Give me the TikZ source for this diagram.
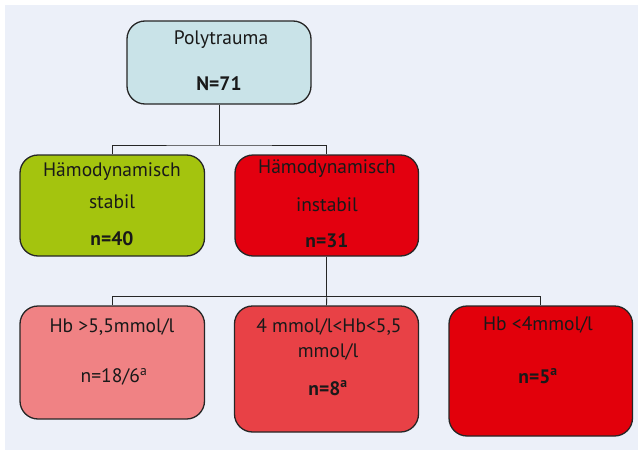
\documentclass[tikz,border=0pt]{standalone}
\usepackage{fontspec}
\setmainfont{PT Sans}
\definecolor{bgcol}{HTML}{ECF0F9}
\definecolor{polycol}{HTML}{C9E3E8}
\definecolor{greencol}{HTML}{A4C40E}
\definecolor{redcol}{HTML}{E3000F}
\definecolor{pinkcol}{HTML}{F08284}
\definecolor{midcol}{HTML}{E84146}
\definecolor{darkred}{HTML}{E2000B}
\newcommand{\txtsize}{\fontsize{19.5}{22}\selectfont}
\begin{document}
\begin{tikzpicture}[x=1pt,y=-1pt,
  box/.style={draw=black!85, line width=1.3pt, rounded corners=18pt, inner sep=0pt},
  txt/.style={inner sep=0pt, font=\txtsize, text=black!90},
  btxt/.style={inner sep=0pt, font=\txtsize\bfseries, text=black!90},
  conn/.style={draw=black!85, line width=0.9pt}]
\useasboundingbox (0,0) rectangle (638,450);
\fill[bgcol] (5,5) rectangle (638,450);

\node[box, fill=polycol, minimum width=184pt, minimum height=83pt] (poly) at (219,62.5) {};
\node[box, fill=greencol, minimum width=184.5pt, minimum height=101pt] (stab) at (112.25,205.5) {};
\node[box, fill=redcol, minimum width=183.5pt, minimum height=101pt] (inst) at (326.75,205.5) {};
\node[box, fill=pinkcol, minimum width=184.5pt, minimum height=113pt] (hb1) at (112.25,362.5) {};
\node[box, fill=midcol, minimum width=184pt, minimum height=126pt] (hb2) at (326.5,369) {};
\node[box, fill=darkred, minimum width=183.5pt, minimum height=130pt] (hb3) at (540.75,371) {};

\coordinate (bus1) at (0,145);
\coordinate (bus2) at (0,296.7);
\draw[conn] (poly.south) -- (poly.south|-bus1);
\draw[conn] (stab.north) |- (poly.south|-bus1) -| (inst.north);
\draw[conn] (inst.south) -- (inst.south|-bus2);
\draw[conn] (hb1.north) |- (inst.south|-bus2) -| (hb3.north);
\draw[conn] (inst.south|-bus2) -- (hb2.north);

\node[txt] (t1) at (221,40) {Polytrauma};
\node[btxt] (t2) at (219,84) {N=71};

\node[txt] (t3) at (112,172) {Hämodynamisch};
\node[txt] (t4) at (112,202) {stabil};
\node[btxt] (t5) at (112,239) {n=40};

\node[txt] (t6) at (327,169) {Hämodynamisch};
\node[txt] (t7) at (327,205) {instabil};
\node[btxt] (t8) at (327,241) {n=31};

\node[txt] (t9) at (112,327) {Hb >5,5mmol/l};
\node[txt] (t10) at (114,377) {n=18/6\textsuperscript{a}};

\node[txt] (t11) at (329,327) {4 mmol/l<Hb<5,5};
\node[txt] (t12) at (328,352) {mmol/l};
\node[btxt] (t13) at (328,388) {n=8\textsuperscript{a}};

\node[txt] (t14) at (538,325) {Hb <4mmol/l};
\node[btxt] (t15) at (538,376) {n=5\textsuperscript{a}};
\end{tikzpicture}
\end{document}
